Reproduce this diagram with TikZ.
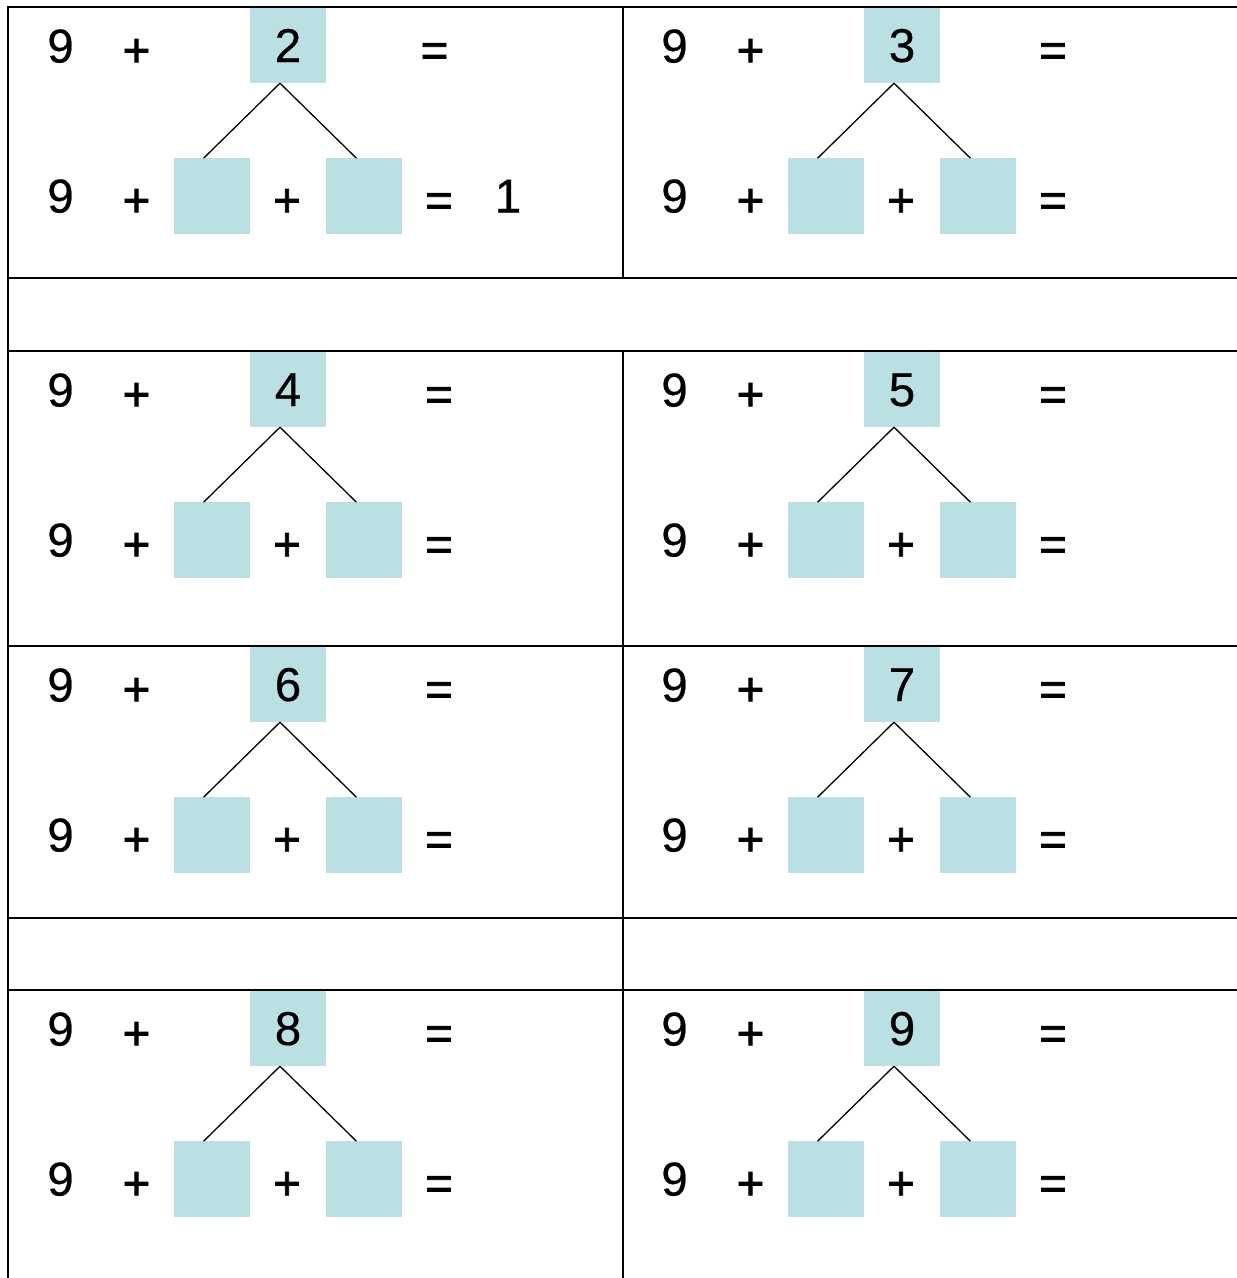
\documentclass[tikz,border=0pt]{standalone}
\usepackage{fontspec}
\setmainfont[FakeBold=0.5]{Liberation Sans}
\newfontfamily\opfont[FakeBold=1.5]{Liberation Sans}
\usepackage{tikz}
\usetikzlibrary{positioning,calc}

\definecolor{boxblue}{RGB}{186,224,227}

\tikzset{
  sym/.style={anchor=base, inner sep=0pt},
  op/.style={sym, yshift=-4pt, font=\opfont\fontsize{47.5}{57}\selectfont},
  numbox/.style={fill=boxblue, minimum size=76pt, inner sep=0pt,
    text height=34pt, text depth=0pt},
  rule/.style={line width=2pt},
  branch/.style={line width=1.3pt},
}

\begin{document}
\begin{tikzpicture}[x=1pt,y=-1pt,font=\fontsize{47.5}{57}\selectfont]

  \useasboundingbox (0,0) rectangle (1237,1278);

  \foreach \i/\x/\y/\n/\e in {a/8/7/2/426.5, b/622/7/3/431, c/8/351/4/431,
      d/622/351/5/431, e/8/646/6/431, f/622/646/7/431,
      g/8/990/8/431, h/622/990/9/431} {

    \node[numbox] (t\i) at (\x+280,\y+38) {\n};
    \node[numbox] (l\i) [below left=75pt and 0pt of t\i] {};
    \node[numbox] (r\i) [below right=75pt and 0pt of t\i] {};

    \node[sym] (nu\i) at (\x+52.5,\y+55.5) {9};
    \node[op] (pu\i) at (\x+128.5,\y+55.5) {+};
    \node[op] (eu\i) at (\x+\e,\y+55.5) {=};

    \node[sym] (nd\i) at (\x+52.5,\y+205.5) {9};
    \node[op] (pd\i) at (\x+128.5,\y+205.5) {+};
    \node[op] (md\i) at (\x+279,\y+205.5) {+};
    \node[op] (ed\i) at (\x+431,\y+205.5) {=};

    \path[branch] ([xshift=-8pt]t\i.south) edge ([xshift=-8pt]l\i.north);
    \path[branch] ([xshift=-8pt]t\i.south) edge ([xshift=-8pt]r\i.north);
  }

  \node[sym] (ans) [right=69pt of nda.base, anchor=base, xshift=378.5pt] {1};

  % table
  \coordinate (tl) at (8,7);
  \coordinate (tr) at (1237,7);
  \coordinate (bl) at (8,1278);
  \draw[rule] (bl) -- (tl) -- (tr);
  \foreach \r in {277.5,351,646,918,990}
    \draw[rule] (8,\r) -- (1237,\r);
  \draw[rule] (622.7,7) -- (622.7,277.5);
  \draw[rule] (622.7,351) -- (622.7,1278);

\end{tikzpicture}
\end{document}
